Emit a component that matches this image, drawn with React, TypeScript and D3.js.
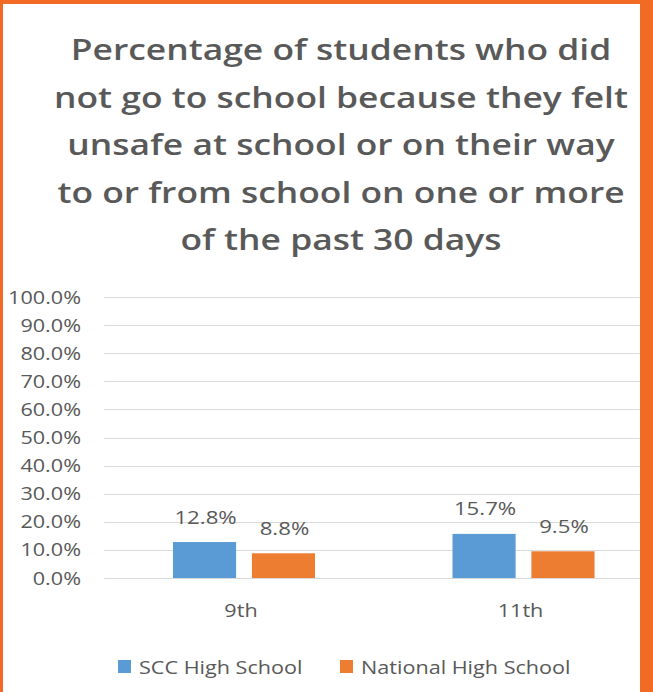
import React from "react";
import * as d3 from "d3";

const titleLines = [
  "Percentage of students who did",
  "not go to school because they felt",
  "unsafe at school or on their way",
  "to or from school on one or more",
  "of the past 30 days",
];
const categories = ["9th", "11th"];
const seriesNames = ["SCC High School", "National High School"];
const sccValues = [0.128, 0.157];
const nationalValues = [0.088, 0.095];
const yTicks = [0, 0.1, 0.2, 0.3, 0.4, 0.5, 0.6, 0.7, 0.8, 0.9, 1.0];
const colors = ["#5B9BD5", "#ED7D31"];

const W = 653;
const H = 692;
const TEXT = "#595959";
const FONT = "'Open Sans', 'Noto Sans', sans-serif";
const SX = 1.2;

function T(props: {
  x: number;
  y: number;
  size: number;
  anchor?: string;
  weight?: number;
  sx?: number;
  children: React.ReactNode;
}) {
  const { x, y, size, anchor = "start", weight = 400, sx = SX, children } = props;
  return (
    <text
      transform={`translate(${x},${y}) scale(${sx},1)`}
      textAnchor={anchor}
      fontFamily={FONT}
      fontWeight={weight}
      fontSize={size}
      fill={TEXT}
    >
      {children}
    </text>
  );
}

export default function App() {
  const y = d3.scaleLinear().domain([0, 1]).range([578, 297]);
  const x0 = d3.scaleBand<string>().domain(categories).range([104.25, 663.25]).padding(0);
  const bw = x0.bandwidth();
  const x1 = d3
    .scaleBand<string>()
    .domain(seriesNames)
    .range([0, bw])
    .paddingInner(0.2)
    .paddingOuter(0.871);
  const seriesValues = [sccValues, nationalValues];
  const fmt = d3.format(".1%");

  return (
    <div style={{ position: "fixed", left: 0, top: 0 }}>
      <svg width={W} height={H} style={{ display: "block" }}>
        <rect x={0} y={0} width={W} height={H} fill="#F26B24" />
        <rect x={3} y={4} width={637} height={H - 4} fill="#ffffff" />
        <g>
          {titleLines.map((t, i) => (
            <T key={i} x={341} y={60 + i * 47.5} size={29.5} weight={600} anchor="middle" sx={1.2}>
              {t}
            </T>
          ))}
        </g>
        <svg x={0} y={0} width={640} height={H}>
          {yTicks.map((t) => (
            <line
              key={t}
              x1={104.25}
              x2={663}
              y1={Math.round(y(t)) + 0.5}
              y2={Math.round(y(t)) + 0.5}
              stroke="#D9D9D9"
              strokeWidth={1}
            />
          ))}
          {categories.map((c, ci) =>
            seriesNames.map((s, si) => {
              const v = seriesValues[si][ci];
              const bx = (x0(c) as number) + (x1(s) as number);
              return (
                <g key={c + s}>
                  <rect x={bx} y={y(v)} width={x1.bandwidth()} height={y(0) - y(v)} fill={colors[si]} />
                  <T x={bx + x1.bandwidth() / 2 + 1} y={y(v) - 18.5} size={18.5} anchor="middle">
                    {fmt(v)}
                  </T>
                </g>
              );
            })
          )}
        </svg>
        {yTicks.map((t) => (
          <T key={t} x={81} y={y(t) + 6.5} size={18} anchor="end">
            {fmt(t)}
          </T>
        ))}
        {categories.map((c) => (
          <T key={c} x={(x0(c) as number) + bw / 2 - 3} y={617} size={18} anchor="middle">
            {c}
          </T>
        ))}
        <g>
          <rect x={118} y={660} width={13} height={13} fill={colors[0]} />
          <T x={139} y={674} size={18}>
            {seriesNames[0]}
          </T>
          <rect x={340} y={660} width={13} height={13} fill={colors[1]} />
          <T x={361} y={674} size={18}>
            {seriesNames[1]}
          </T>
        </g>
      </svg>
    </div>
  );
}
